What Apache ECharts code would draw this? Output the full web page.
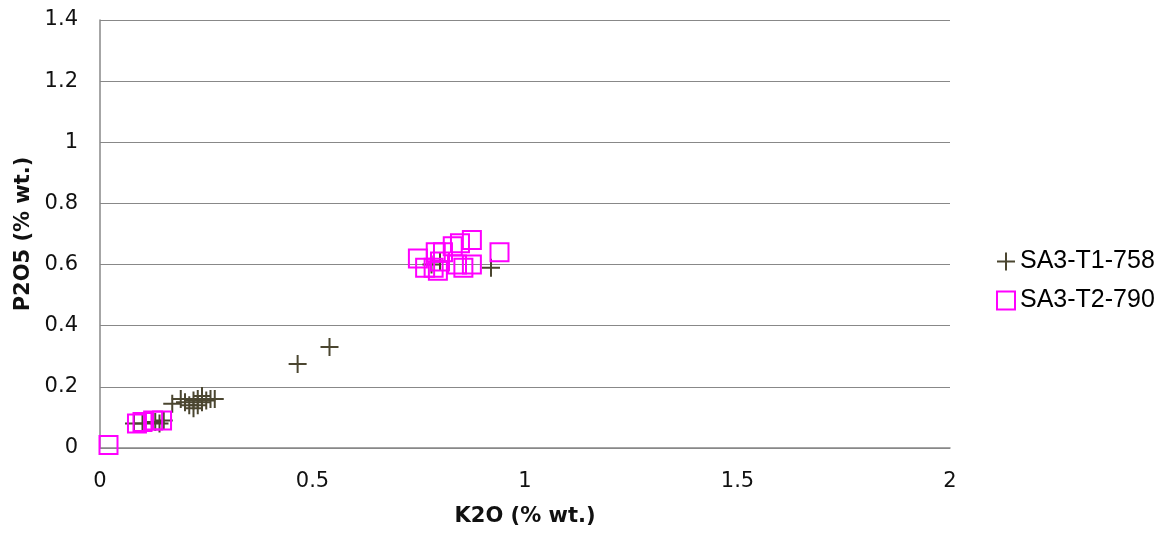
<!DOCTYPE html>
<html><head><meta charset="utf-8">
<script src="https://cdn.jsdelivr.net/npm/echarts@6/dist/echarts.min.js"></script>
<style>html,body{margin:0;padding:0;background:#fff}#c{width:1172px;height:534px}</style>
</head><body><div id="c"></div>
<script>
const seriesNames = ['SA3-T1-758', 'SA3-T2-790'];
const xTicks = [0, 0.5, 1, 1.5, 2];
const yTicks = [0, 0.2, 0.4, 0.6, 0.8, 1, 1.2, 1.4];
const t1K2O = [0.08,0.10,0.13,0.14,0.15,0.17,0.19,0.20,0.21,0.22,0.22,0.23,0.23,0.24,0.24,0.25,0.26,0.27,0.465,0.54,0.78,0.80,0.92];
const t1P2O5 = [0.08,0.08,0.085,0.08,0.09,0.145,0.16,0.15,0.14,0.13,0.155,0.16,0.14,0.15,0.17,0.155,0.16,0.16,0.275,0.33,0.60,0.61,0.59];
const t2K2O = [0.02,0.087,0.10,0.125,0.146,0.748,0.765,0.785,0.79,0.795,0.80,0.807,0.83,0.84,0.847,0.855,0.875,0.875,0.94];
const t2P2O5 = [0.01,0.08,0.085,0.09,0.09,0.62,0.59,0.59,0.64,0.58,0.61,0.64,0.66,0.60,0.67,0.59,0.68,0.60,0.64];

const crossPath = 'path://M8,0h2v8h8v2h-8v8h-2v-8h-8v-2h8z';
const chart = echarts.init(document.getElementById('c'));
const font = 'DejaVu Sans, sans-serif';
const legendFont = 'Liberation Sans, Arial, sans-serif';
chart.setOption({
  animation: false,
  textStyle: {fontFamily: font},
  grid: {left: 100, top: 20, right: 222, bottom: 86},
  legend: {
    orient: 'vertical', left: 991, top: 244, itemGap: 14,
    itemWidth: 18, itemHeight: 18,
    textStyle: {fontSize: 25, color: '#000', fontFamily: legendFont},
    data: [
      {name: seriesNames[0], icon: crossPath, itemStyle: {color: '#4B4630'}},
      {name: seriesNames[1], icon: 'rect', itemStyle: {color: 'rgba(0,0,0,0)', borderColor: '#FF00FF', borderWidth: 2}}
    ]
  },
  xAxis: {
    type: 'value', min: xTicks[0], max: xTicks[xTicks.length-1], interval: 0.5,
    name: 'K2O (% wt.)', nameLocation: 'middle', nameGap: 58,
    nameTextStyle: {fontSize: 21, fontWeight: 'bold', color: '#111', fontFamily: font},
    axisLine: {show: true, lineStyle: {color: '#888', width: 1.5}},
    axisTick: {show: false},
    splitLine: {show: false},
    axisLabel: {fontSize: 21, color: '#111', margin: 23, fontFamily: font}
  },
  yAxis: {
    type: 'value', min: yTicks[0], max: yTicks[yTicks.length-1], interval: 0.2,
    name: 'P2O5 (% wt.)', nameLocation: 'middle', nameGap: 66,
    nameTextStyle: {fontSize: 21, fontWeight: 'bold', color: '#111', fontFamily: font},
    axisLine: {show: true, lineStyle: {color: '#888', width: 1.5}},
    axisTick: {show: false},
    splitLine: {show: true, lineStyle: {color: '#888', width: 1}},
    axisLabel: {fontSize: 21, color: '#111', margin: 22, fontFamily: font,
      formatter: v => String(Math.round(v*10)/10)}
  },
  series: [
    {name: seriesNames[0], type: 'scatter', symbol: crossPath, symbolSize: 18,
     itemStyle: {color: '#4B4630', opacity: 1},
     data: t1K2O.map((x,i)=>[x, t1P2O5[i]])},
    {name: seriesNames[1], type: 'scatter', symbol: 'rect', symbolSize: 18,
     itemStyle: {color: 'rgba(0,0,0,0)', borderColor: '#FF00FF', borderWidth: 2, opacity: 1},
     data: t2K2O.map((x,i)=>[x, t2P2O5[i]])}
  ]
});
</script></body></html>
